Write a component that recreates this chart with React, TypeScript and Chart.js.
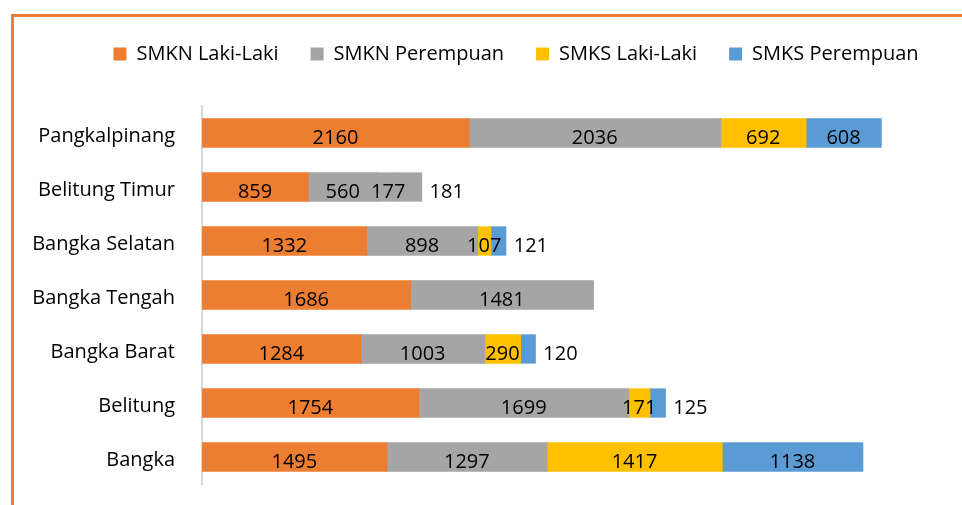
import React, { useEffect, useRef } from 'react';
import { Chart, registerables } from 'chart.js';

Chart.register(...registerables);

const categories = ['Pangkalpinang', 'Belitung Timur', 'Bangka Selatan', 'Bangka Tengah', 'Bangka Barat', 'Belitung', 'Bangka'];
const smknLaki = [2160, 859, 1332, 1686, 1284, 1754, 1495];
const smknPerempuan = [2036, 560, 898, 1481, 1003, 1699, 1297];
const smksLaki = [692, 177, 107, null, 290, 171, 1417];
const smksPerempuan = [608, 181, 121, null, 120, 125, 1138];
const seriesNames = ['SMKN Laki-Laki', 'SMKN Perempuan', 'SMKS Laki-Laki', 'SMKS Perempuan'];
const seriesColors = ['#ED7D31', '#A5A5A5', '#FFC000', '#5B9BD5'];
const grayedCategory = 'Belitung Timur';

const FONT = '"Open Sans", sans-serif';

const legendSpacer = {
  id: 'legendSpacer',
  beforeInit(chart: any) {
    const legend = chart.legend;
    if (!legend) return;
    const origFit = legend.fit;
    legend.fit = function () {
      origFit.call(this);
      this.height += 32;
    };
  },
};

const valueLabels = {
  id: 'valueLabels',
  afterDatasetsDraw(chart: any) {
    const ctx = chart.ctx;
    ctx.save();
    ctx.font = `20px ${FONT}`;
    ctx.fillStyle = '#000';
    ctx.textBaseline = 'alphabetic';
    const n = chart.data.datasets.length;
    chart.data.datasets.forEach((ds: any, di: number) => {
      const meta = chart.getDatasetMeta(di);
      meta.data.forEach((el: any, i: number) => {
        const v = ds.data[i];
        if (v == null) return;
        const { x, base, y } = el.getProps(['x', 'base', 'y'], true);
        const txt = String(v);
        const w = ctx.measureText(txt).width;
        const segW = Math.abs(x - base);
        if (di === n - 1 && segW < w) {
          ctx.textAlign = 'left';
          ctx.fillText(txt, Math.max(x, base) + 8, y + 11);
        } else {
          ctx.textAlign = 'center';
          ctx.fillText(txt, (x + base) / 2, y + 11);
        }
      });
    });
    ctx.restore();
  },
};

export default function App() {
  const canvasRef = useRef<HTMLCanvasElement | null>(null);

  useEffect(() => {
    if (!canvasRef.current) return;
    Chart.defaults.font.family = FONT;
    const seriesData = [smknLaki, smknPerempuan, smksLaki, smksPerempuan];
    const chart = new Chart(canvasRef.current, {
      type: 'bar',
      data: {
        labels: categories,
        datasets: seriesData.map((d, si) => ({
          label: seriesNames[si],
          data: d,
          backgroundColor: si >= 2
            ? categories.map((c) => (c === grayedCategory ? seriesColors[1] : seriesColors[si]))
            : seriesColors[si],
          borderWidth: 0,
          inflateAmount: 0.6,
          barPercentage: 0.52,
          categoryPercentage: 1,
        })),
      },
      options: {
        indexAxis: 'y',
        responsive: false,
        animation: false,
        layout: { padding: { left: 0, right: 0, top: 0, bottom: 0 } },
        scales: {
          x: { stacked: true, display: false, min: 0, max: 6620 },
          y: {
            stacked: true,
            grid: { display: false, drawTicks: false },
            border: { display: true, color: '#D9D9D9', width: 2 },
            ticks: { color: '#000', font: { size: 20, family: FONT }, padding: 27, labelOffset: 3 },
            afterFit(scale: any) {
              scale.width = 190;
            },
          },
        },
        plugins: {
          legend: {
            position: 'top',
            labels: {
              boxWidth: 13,
              boxHeight: 13,
              padding: 32,
              color: '#000',
              font: { size: 20, family: FONT },
              generateLabels(ch: any) {
                return ch.data.datasets.map((ds: any, i: number) => ({
                  text: ds.label,
                  fillStyle: seriesColors[i],
                  strokeStyle: seriesColors[i],
                  lineWidth: 0,
                  hidden: false,
                  datasetIndex: i,
                  fontColor: '#000',
                }));
              },
            },
          },
          tooltip: { enabled: false },
        },
      },
      plugins: [legendSpacer, valueLabels],
    } as any);
    return () => chart.destroy();
  }, []);

  return (
    <div style={{ position: 'fixed', inset: 0, overflow: 'hidden', background: '#fff' }}>
      <div
        style={{
          position: 'absolute',
          left: 11,
          top: 14,
          width: 1100,
          height: 600,
          border: '3px solid #ED7D31',
          boxSizing: 'border-box',
        }}
      />
      <div style={{ position: 'absolute', left: 12, top: 12, width: 1008, height: 520 }}>
        <canvas ref={canvasRef} width={1008} height={511} style={{ display: 'block' }} />
      </div>
    </div>
  );
}
